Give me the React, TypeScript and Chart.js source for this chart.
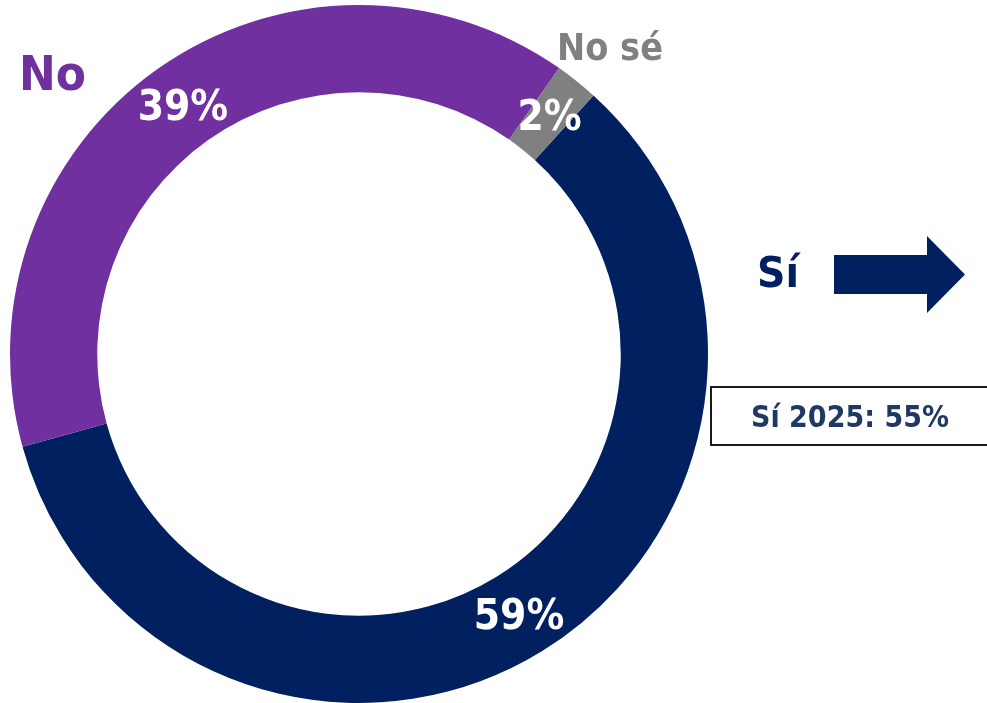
import React, { useEffect, useRef } from "react";
import { Chart, registerables } from "chart.js";

Chart.register(...registerables);

const categories = ["Sí", "No", "No sé"];
const values = [59, 39, 2];
const colors = ["#002060", "#7030A0", "#808080"];
const percentLabels = ["59%", "39%", "2%"];
const noteText = "Sí 2025: 55%";

const FONT = "'DejaVu Sans', sans-serif";

const percentPlugin = {
  id: "percentPlugin",
  afterDatasetsDraw(chart: any) {
    const ctx = chart.ctx;
    const meta = chart.getDatasetMeta(0);
    const size = 42;
    const sx = 0.9;
    ctx.save();
    ctx.fillStyle = "#ffffff";
    ctx.font = `bold ${size}px ${FONT}`;
    ctx.textAlign = "center";
    ctx.textBaseline = "alphabetic";
    meta.data.forEach((arc: any, i: number) => {
      const p = arc.tooltipPosition();
      ctx.save();
      ctx.translate(p.x, p.y + size * 0.36);
      ctx.scale(sx, 1);
      ctx.fillText(percentLabels[i], 0, 0);
      ctx.restore();
    });
    ctx.restore();
  },
};

export default function App() {
  const canvasRef = useRef<HTMLCanvasElement | null>(null);

  useEffect(() => {
    if (!canvasRef.current) return;
    const chart = new Chart(canvasRef.current, {
      type: "doughnut",
      data: {
        labels: categories,
        datasets: [
          {
            data: values,
            backgroundColor: colors,
            borderWidth: 0,
          },
        ],
      },
      options: {
        animation: false,
        responsive: true,
        maintainAspectRatio: false,
        rotation: 42.2,
        cutout: "75%",
        layout: { padding: 0 },
        plugins: {
          legend: { display: false },
          tooltip: { enabled: false },
        },
      },
      plugins: [percentPlugin],
    });
    return () => chart.destroy();
  }, []);

  return (
    <div
      style={{
        position: "fixed",
        left: 0,
        top: 0,
        width: 987,
        height: 703,
        background: "#ffffff",
        overflow: "hidden",
      }}
    >
      <div style={{ position: "absolute", left: 10, top: 5, width: 698, height: 698 }}>
        <canvas ref={canvasRef} />
      </div>
      <svg
        width={987}
        height={703}
        style={{ position: "absolute", left: 0, top: 0, pointerEvents: "none" }}
      >
        <text
          x={19}
          y={90}
          fill="#7030A0"
          fontFamily={FONT}
          fontWeight="bold"
          fontSize={48}
          textLength={67}
          lengthAdjust="spacingAndGlyphs"
        >
          {categories[1]}
        </text>
        <text
          x={557}
          y={60}
          fill="#808080"
          fontFamily={FONT}
          fontWeight="bold"
          fontSize={37}
          textLength={106}
          lengthAdjust="spacingAndGlyphs"
        >
          {categories[2]}
        </text>
        <text
          x={757}
          y={287}
          fill="#002060"
          fontFamily={FONT}
          fontWeight="bold"
          fontSize={42}
          textLength={42}
          lengthAdjust="spacingAndGlyphs"
        >
          {categories[0]}
        </text>
        <polygon
          points="834,255 927,255 927,236 965,274.5 927,313 927,294 834,294"
          fill="#002060"
        />
        <rect x={711} y={387} width={290} height={58} fill="#ffffff" stroke="#1a1a1a" strokeWidth={2} />
        <text
          x={751}
          y={427}
          fill="#1F3864"
          fontFamily={FONT}
          fontWeight="bold"
          fontSize={30}
          textLength={198}
          lengthAdjust="spacingAndGlyphs"
        >
          {noteText}
        </text>
      </svg>
    </div>
  );
}
